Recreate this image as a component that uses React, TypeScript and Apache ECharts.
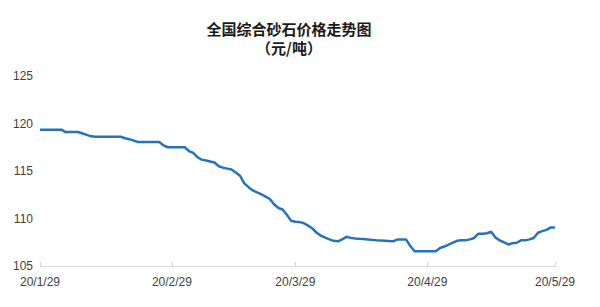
import React, { useEffect, useRef } from "react";
import * as echarts from "echarts";

// Daily dates from 2020-01-29 to 2020-05-29 (categories)
const startDate = new Date(2020, 0, 29);
const dayCount = 122;
const categories: string[] = [];
for (let i = 0; i < dayCount; i++) {
  const d = new Date(startDate.getFullYear(), startDate.getMonth(), startDate.getDate() + i);
  categories.push(`20/${d.getMonth() + 1}/${d.getDate()}`);
}

// Tick label positions (category values shown on the x axis)
const tickLabels = ["20/1/29", "20/2/29", "20/3/29", "20/4/29", "20/5/29"];

// Y axis ticks
const yTicks = [105, 110, 115, 120, 125];

// 全国综合砂石价格 (元/吨), daily values
const prices: number[] = [
  119.35, 119.35, 119.35, 119.35, 119.35, 119.35, 119.1, 119.1, 119.1, 119.1,
  118.95, 118.8, 118.65, 118.6, 118.6, 118.6, 118.6, 118.6, 118.6, 118.6,
  118.45, 118.35, 118.2, 118.05, 118.05, 118.05, 118.05, 118.05, 118.05, 117.7,
  117.5, 117.5, 117.5, 117.5, 117.5, 117.1, 116.9, 116.45, 116.2, 116.1,
  116.0, 115.9, 115.5, 115.35, 115.25, 115.15, 114.85, 114.5, 113.7, 113.3,
  112.95, 112.75, 112.55, 112.3, 112.05, 111.5, 111.1, 110.95, 110.4, 109.75,
  109.65, 109.62, 109.5, 109.25, 108.95, 108.5, 108.2, 107.98, 107.8, 107.65,
  107.6, 107.8, 108.07, 107.96, 107.9, 107.86, 107.84, 107.8, 107.75, 107.7,
  107.68, 107.65, 107.62, 107.6, 107.8, 107.8, 107.8, 107.1, 106.55, 106.55,
  106.55, 106.55, 106.55, 106.55, 106.9, 107.05, 107.25, 107.45, 107.65, 107.7,
  107.7, 107.8, 107.95, 108.4, 108.4, 108.45, 108.6, 108.0, 107.7, 107.5,
  107.27, 107.4, 107.45, 107.7, 107.7, 107.8, 107.95, 108.5, 108.67, 108.8,
  109.06, 109.06,
];

const titleLines = ["全国综合砂石价格走势图", "（元/吨）"];

export default function App() {
  const ref = useRef<HTMLDivElement>(null);

  useEffect(() => {
    if (!ref.current) return;
    const chart = echarts.init(ref.current, undefined, { renderer: "svg" });
    const showIdx = (idx: number) => tickLabels.includes(categories[idx]);
    chart.setOption({
      animation: false,
      backgroundColor: "#ffffff",
      graphic: [
        {
          type: "text",
          x: 289,
          y: 28,
          style: {
            text: titleLines[0],
            font: 'bold 15px "Noto Sans CJK SC", sans-serif',
            fill: "#1a1a1a",
            textAlign: "center",
            textVerticalAlign: "middle",
          },
        },
        {
          type: "text",
          x: 289,
          y: 47,
          style: {
            text: titleLines[1],
            font: 'bold 15px "Noto Sans CJK SC", sans-serif',
            fill: "#1a1a1a",
            textAlign: "center",
            textVerticalAlign: "middle",
          },
        },
      ],
      grid: { left: 40, right: 45, top: 76, bottom: 41 },
      xAxis: {
        type: "category",
        data: categories,
        boundaryGap: false,
        axisLine: { show: true, lineStyle: { color: "#d9d9d9", width: 1 } },
        axisTick: {
          show: true,
          interval: (idx: number) => showIdx(idx),
          length: 4,
          inside: true,
          lineStyle: { color: "#d9d9d9" },
        },
        axisLabel: {
          interval: (idx: number) => showIdx(idx),
          color: "#404040",
          fontSize: 12,
          fontFamily: "Liberation Sans, Arial, sans-serif",
          margin: 10,
          showMinLabel: true,
          showMaxLabel: true,
        },
        splitLine: { show: false },
      },
      yAxis: {
        type: "value",
        min: yTicks[0],
        max: yTicks[yTicks.length - 1],
        interval: 5,
        axisLine: { show: false },
        axisTick: { show: false },
        splitLine: { show: false },
        axisLabel: {
          color: "#404040",
          fontSize: 12,
          fontFamily: "Liberation Sans, Arial, sans-serif",
          margin: 7,
        },
      },
      series: [
        {
          type: "line",
          data: prices,
          showSymbol: false,
          symbol: "none",
          smooth: false,
          lineStyle: { color: "#2674b8", width: 2.5 },
          itemStyle: { color: "#2674b8" },
        },
      ],
    });
    return () => chart.dispose();
  }, []);

  return (
    <div
      ref={ref}
      style={{ position: "fixed", left: 0, top: 0, width: 600, height: 307 }}
    />
  );
}
